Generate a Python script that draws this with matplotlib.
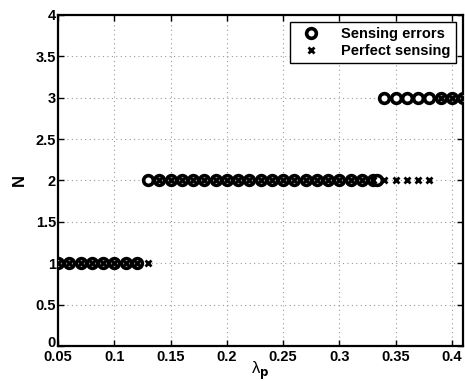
import matplotlib
matplotlib.use("Agg")
import matplotlib.pyplot as plt
import matplotlib.transforms as mtransforms
import numpy as np

plt.rcParams['font.family'] = ['Liberation Sans', 'DejaVu Sans']

# Sensing errors (circles)
err_x = [0.05, 0.06, 0.07, 0.08, 0.09, 0.10, 0.11, 0.12,
         0.13, 0.14, 0.15, 0.16, 0.17, 0.18, 0.19, 0.20, 0.21, 0.22, 0.23,
         0.24, 0.25, 0.26, 0.27, 0.28, 0.29, 0.30, 0.31, 0.32, 0.33, 0.333,
         0.34, 0.35, 0.36, 0.37, 0.38, 0.39, 0.40, 0.41]
err_n = [1, 1, 1, 1, 1, 1, 1, 1,
         2, 2, 2, 2, 2, 2, 2, 2, 2, 2, 2,
         2, 2, 2, 2, 2, 2, 2, 2, 2, 2, 2,
         3, 3, 3, 3, 3, 3, 3, 3]

# Perfect sensing (crosses)
perf_x = [0.05, 0.06, 0.07, 0.08, 0.09, 0.10, 0.11, 0.12, 0.13,
          0.14, 0.15, 0.16, 0.17, 0.18, 0.19, 0.20, 0.21, 0.22, 0.23,
          0.24, 0.25, 0.26, 0.27, 0.28, 0.29, 0.30, 0.31, 0.32, 0.33,
          0.34, 0.35, 0.36, 0.37, 0.38, 0.39, 0.40, 0.41]
perf_n = [1, 1, 1, 1, 1, 1, 1, 1, 1,
          2, 2, 2, 2, 2, 2, 2, 2, 2, 2,
          2, 2, 2, 2, 2, 2, 2, 2, 2, 2,
          2, 2, 2, 2, 2, 3, 3, 3]

x_ticks = [0.05, 0.1, 0.15, 0.2, 0.25, 0.3, 0.35, 0.4]
x_tick_labels = ['0.05', '0.1', '0.15', '0.2', '0.25', '0.3', '0.35', '0.4']
y_ticks = [0, 0.5, 1, 1.5, 2, 2.5, 3, 3.5, 4]
y_tick_labels = ['0', '0.5', '1', '1.5', '2', '2.5', '3', '3.5', '4']

fig = plt.figure(figsize=(4.65, 3.81), dpi=100)
ax = fig.add_axes([0.125, 0.092, 0.871, 0.869])

ax.plot(err_x, err_n, linestyle='none', marker='o', markersize=7,
        markerfacecolor='white', markeredgecolor='black', markeredgewidth=2.6,
        label='Sensing errors', zorder=3)
ax.plot(perf_x, perf_n, linestyle='none', marker='x', markersize=4.5,
        color='black', markeredgewidth=2, label='Perfect sensing', zorder=4)

ax.set_xlim(0.05, 0.41)
ax.set_ylim(0, 4)
ax.set_xticks(x_ticks)
ax.set_xticklabels(x_tick_labels, fontsize=10.5, fontweight='bold')
ax.set_yticks(y_ticks)
ax.set_yticklabels(y_tick_labels, fontsize=10.5, fontweight='bold')
ax.tick_params(direction='in', top=True, right=True, length=4, width=1)
ax.tick_params(axis='x', pad=3)
ax.tick_params(axis='y', pad=1.5)
ax.grid(True, linestyle=(0, (1, 3)), color='#999999', linewidth=0.8)
ax.set_axisbelow(True)
for s in ax.spines.values():
    s.set_linewidth(1.6)

# nudge the "0" y tick label up so it sits on the axis like the reference
zero_lbl = ax.get_yticklabels()[0]
zero_lbl.set_transform(zero_lbl.get_transform() +
                       mtransforms.ScaledTranslation(0, 3 / 72, fig.dpi_scale_trans))

ax.set_xlabel(r'λ$_{\mathbf{p}}$', fontsize=12, labelpad=-3)
ax.set_ylabel('N', fontsize=12, fontweight='bold', labelpad=6)

leg = ax.legend(loc='upper right', prop={'weight': 'bold', 'size': 10.5},
                fancybox=False, edgecolor='black', framealpha=1,
                borderaxespad=0.5, handletextpad=1.0, handlelength=2.2,
                borderpad=0.35, labelspacing=0.2)
leg.get_frame().set_linewidth(1)

fig.savefig('out.png', dpi=100)
